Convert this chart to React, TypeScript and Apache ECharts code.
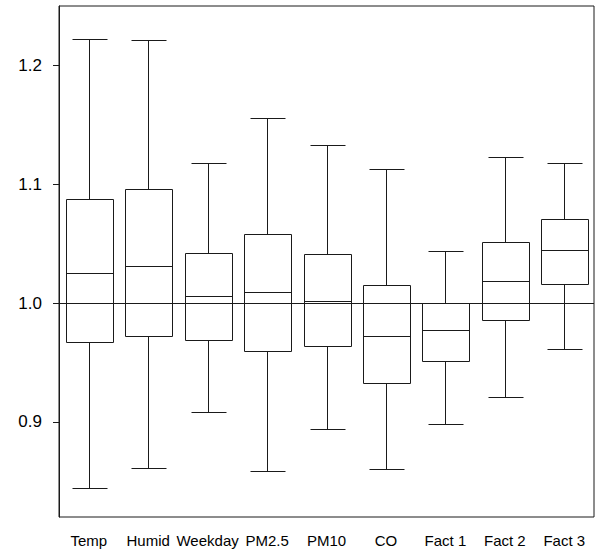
import React, { useEffect, useRef } from "react";
import * as echarts from "echarts";

const categories = ["Temp", "Humid", "Weekday", "PM2.5", "PM10", "CO", "Fact 1", "Fact 2", "Fact 3"];
const whiskerLow = [0.844, 0.861, 0.908, 0.859, 0.894, 0.860, 0.898, 0.921, 0.961];
const q1 = [0.967, 0.972, 0.969, 0.960, 0.964, 0.933, 0.951, 0.986, 1.016];
const median = [1.025, 1.031, 1.006, 1.009, 1.002, 0.972, 0.977, 1.019, 1.045];
const q3 = [1.088, 1.096, 1.042, 1.058, 1.041, 1.015, 1.000, 1.051, 1.071];
const whiskerHigh = [1.222, 1.221, 1.118, 1.156, 1.133, 1.113, 1.044, 1.123, 1.118];
const yTicks = [0.9, 1.0, 1.1, 1.2];
const referenceValue = 1.0;

const LINE = "#1a1a1a";
const FONT = "'Liberation Sans', Arial, sans-serif";

export default function App() {
  const ref = useRef<HTMLDivElement>(null);

  useEffect(() => {
    if (!ref.current) return;
    const chart = echarts.init(ref.current, undefined, { renderer: "svg" });

    const data = categories.map((_, i) => [i, whiskerLow[i], q1[i], median[i], q3[i], whiskerHigh[i]]);

    const crisp = (v: number) => Math.round(v) + 0.5;

    const renderItem = (params: any, api: any) => {
      const idx = api.value(0);
      const band = api.size([1, 0])[0];
      const cx = crisp(api.coord([idx, 1])[0]);
      const boxHalf = band * 0.4;
      const capHalf = band * 0.3;
      const y = (v: number) => crisp(api.coord([idx, v])[1]);
      const yMin = y(api.value(1));
      const yQ1 = y(api.value(2));
      const yMed = y(api.value(3));
      const yQ3 = y(api.value(4));
      const yMax = y(api.value(5));
      const bx0 = crisp(cx - boxHalf);
      const bx1 = crisp(cx + boxHalf);
      const cx0 = crisp(cx - capHalf);
      const cx1 = crisp(cx + capHalf);
      const style = { stroke: LINE, lineWidth: 1, fill: "none" };
      return {
        type: "group",
        children: [
          { type: "line", shape: { x1: cx, y1: yMax, x2: cx, y2: yQ3 }, style },
          { type: "line", shape: { x1: cx, y1: yQ1, x2: cx, y2: yMin }, style },
          { type: "line", shape: { x1: cx0, y1: yMax, x2: cx1, y2: yMax }, style },
          { type: "line", shape: { x1: cx0, y1: yMin, x2: cx1, y2: yMin }, style },
          { type: "rect", shape: { x: bx0, y: yQ3, width: bx1 - bx0, height: yQ1 - yQ3 }, style },
          { type: "line", shape: { x1: bx0, y1: yMed, x2: bx1, y2: yMed }, style },
        ],
      };
    };

    chart.setOption({
      animation: false,
      backgroundColor: "#ffffff",
      grid: {
        left: 59,
        top: 6,
        width: 535,
        height: 511,
        show: true,
        borderColor: LINE,
        borderWidth: 1,
        backgroundColor: "transparent",
      },
      xAxis: {
        type: "category",
        data: categories,
        boundaryGap: true,
        axisLine: { show: false },
        axisTick: { show: false },
        splitLine: { show: false },
        axisLabel: {
          color: "#000",
          fontSize: 15,
          fontFamily: FONT,
          margin: 16,
          interval: 0,
        },
      },
      yAxis: {
        type: "value",
        min: 0.82,
        max: 1.25,
        axisLine: { show: true, lineStyle: { color: LINE, width: 1 } },
        axisTick: {
          show: true,
          length: 6,
          inside: false,
          customValues: yTicks,
          lineStyle: { color: LINE, width: 1 },
        },
        splitLine: { show: false },
        axisLabel: {
          color: "#000",
          fontSize: 17,
          fontFamily: FONT,
          margin: 17,
          customValues: yTicks,
          formatter: (v: number) => v.toFixed(1),
        },
      },
      series: [
        {
          type: "custom",
          renderItem,
          data,
          encode: { x: 0, y: [1, 2, 3, 4, 5] },
          silent: true,
          z: 3,
        },
        {
          type: "line",
          data: [],
          silent: true,
          markLine: {
            silent: true,
            symbol: ["none", "none"],
            label: { show: false },
            lineStyle: { color: LINE, width: 1, type: "solid" },
            data: [{ yAxis: referenceValue }],
          },
          z: 4,
        },
      ],
    });

    return () => chart.dispose();
  }, []);

  return (
    <div
      ref={ref}
      style={{ position: "absolute", left: 0, top: 0, width: 599, height: 551, background: "#fff" }}
    />
  );
}
